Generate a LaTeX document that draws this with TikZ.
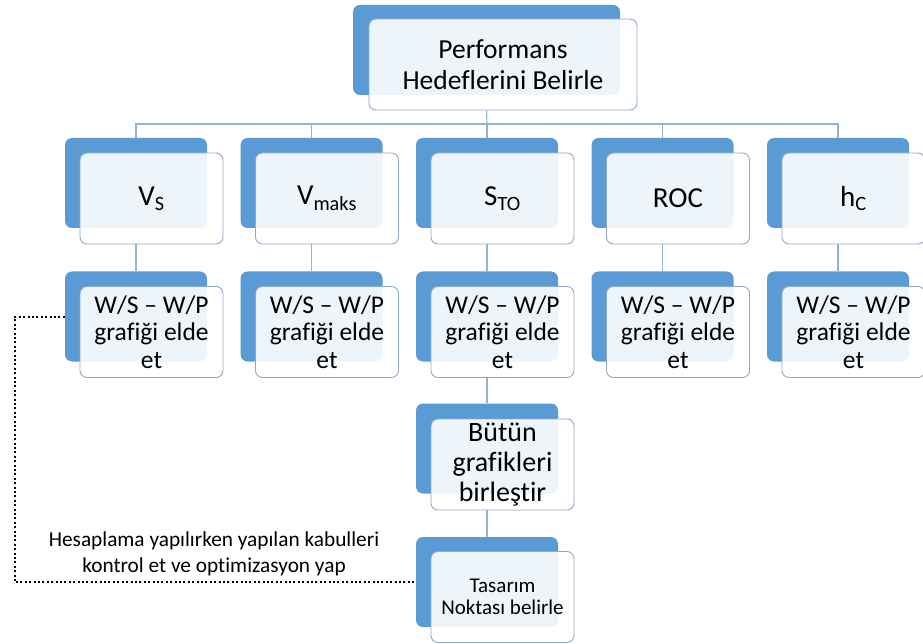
\documentclass[tikz,border=0pt]{standalone}
\usepackage{fontspec}
\setmainfont{Carlito}[Ligatures={NoCommon,NoRequired,NoContextual}]
\usetikzlibrary{calc}
\definecolor{accent}{HTML}{5B9BD5}
\definecolor{edgec}{HTML}{8EAACB}
\definecolor{connc}{HTML}{93B1D0}
\tikzset{
  backbox/.style={fill=accent, rounded corners=7pt, minimum width=142pt, minimum height=90pt, inner sep=0pt},
  frontbox/.style={draw=edgec, line width=0.9pt, fill=white, fill opacity=0.9, text opacity=1, rounded corners=7pt,
    minimum width=143pt, minimum height=91pt, inner sep=1pt, align=center, text=black},
  conn/.style={draw=connc, line width=1.1pt},
  feedback/.style={draw=black, line width=2pt, dash pattern=on 2pt off 2.4pt},
  ftitle/.style={font=\fontsize{27.5}{30.5}\selectfont},
  fsecond/.style={font=\fontsize{29}{30}\selectfont},
  fthird/.style={font=\fontsize{25.5}{27.5}\selectfont},
  ffourth/.style={font=\fontsize{28}{30}\selectfont},
  ffifth/.style={font=\fontsize{21}{21.5}\selectfont},
  fnote/.style={font=\fontsize{21.3}{26}\selectfont, align=center}
}
\begin{document}
\begin{tikzpicture}[x=1pt,y=-1pt]
\useasboundingbox (0,0) rectangle (923,644);
% top box
\node[backbox, minimum width=267pt] (topB) at (486.5,50) {};
% level 2 back boxes
\node[backbox] (vsB)  at (136,183) {};
\node[backbox] (vmB)  at (311.5,183) {};
\node[backbox] (stoB) at (487,183) {};
\node[backbox] (rocB) at (662.5,183) {};
\node[backbox] (hcB)  at (838,183) {};
% level 3 back boxes
\node[backbox] (vswB)  at (136,316.5) {};
\node[backbox] (vmwB)  at (311.5,316.5) {};
\node[backbox] (stowB) at (487,316.5) {};
\node[backbox] (rocwB) at (662.5,316.5) {};
\node[backbox] (hcwB)  at (838,316.5) {};
% level 4 and 5
\node[backbox] (allB) at (487,448.5) {};
\node[backbox] (tasB) at (487,582) {};

% front boxes
\node[frontbox, ftitle, minimum width=268pt] (topF) at (503,64.5) {Performans\\Hedeflerini Belirle};
\node[frontbox, fsecond] (vsF)  at (151.5,198.5) {V\textsubscript{S}};
\node[frontbox, fsecond] (vmF)  at (327,198.5) {V\textsubscript{maks}};
\node[frontbox, fsecond] (stoF) at (502.5,198.5) {S\textsubscript{TO}};
\node[frontbox, fsecond] (rocF) at (678,198.5) {ROC};
\node[frontbox, fsecond] (hcF)  at (853.5,198.5) {h\textsubscript{C}};
\node[frontbox, fthird] (vswF)  at (151.5,332) {W/S – W/P\\grafiği elde\\et};
\node[frontbox, fthird] (vmwF)  at (327,332) {W/S – W/P\\grafiği elde\\et};
\node[frontbox, fthird] (stowF) at (502.5,332) {W/S – W/P\\grafiği elde\\et};
\node[frontbox, fthird] (rocwF) at (678,332) {W/S – W/P\\grafiği elde\\et};
\node[frontbox, fthird] (hcwF)  at (853.5,332) {W/S – W/P\\grafiği elde\\et};
\node[frontbox, ffourth] (allF) at (502.5,464.5) {Bütün\\grafikleri\\birleştir};
\node[frontbox, ffifth] (tasF) at (502.5,597) {Tasarım\\Noktası belirle};

% connectors
\coordinate (bus) at (487,124);
\draw[conn] (topB.center |- topF.south) -- (bus);
\foreach \n in {vs,vm,sto,roc,hc}{
  \draw[conn] (bus) -| (\n B.north);
  \draw[conn] (\n B.center |- \n F.south) -- (\n wB.north);
}
\draw[conn] (stowB.center |- stowF.south) -- (allB.north);
\draw[conn] (allB.center |- allF.south) -- (tasB.north);

% feedback loop
\coordinate (fbtop) at ($(vswB.west)+(-50,0)$);
\draw[feedback] (vswB.west) -- (fbtop) |- (tasB.west);
\node[fnote] (note) at (214,554) {Hesaplama yapılırken yapılan kabulleri\\kontrol et ve optimizasyon yap};
\end{tikzpicture}
\end{document}
